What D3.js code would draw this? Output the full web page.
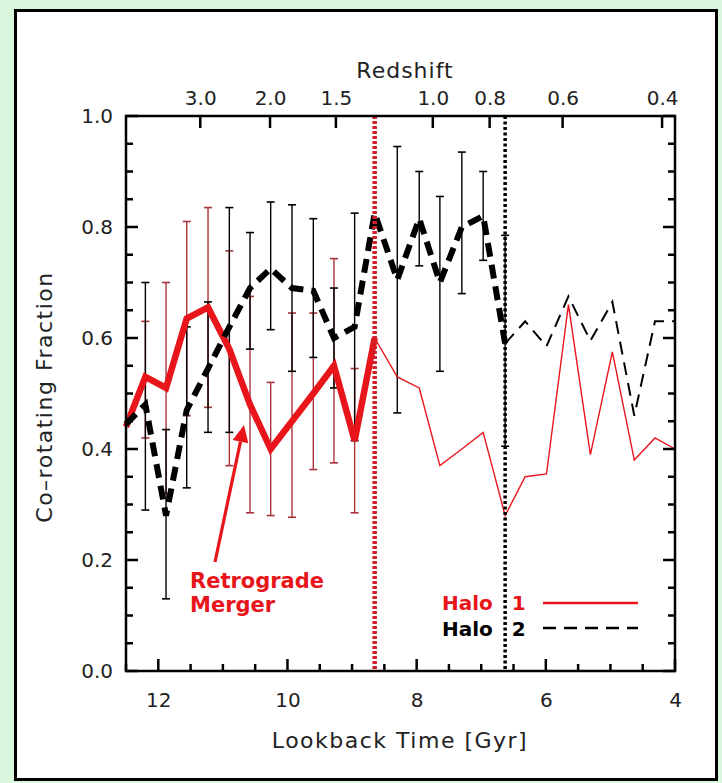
<!DOCTYPE html>
<html>
<head>
<meta charset="utf-8">
<script src="https://cdn.jsdelivr.net/npm/d3@7"></script>
<style>
  body { margin: 0; background: #d8f7dc; }
  svg { display: block; }
  text { font-family: "DejaVu Sans", sans-serif; }
</style>
</head>
<body>
<div id="graph"></div>
<script>
// lookback time of each bin [Gyr]
const times = [12.5, 12.2, 11.88, 11.56, 11.23, 10.9, 10.58, 10.26, 9.93, 9.6, 9.28, 8.96, 8.65,
  8.3, 7.96, 7.64, 7.3, 6.97, 6.63, 6.32, 5.99, 5.65, 5.31, 4.97, 4.63, 4.31, 4.0];
// co-rotating fraction
const halo1 = [0.44, 0.53, 0.51, 0.635, 0.655, 0.58, 0.48, 0.40, 0.45, 0.50, 0.55, 0.415, 0.60,
  0.53, 0.51, 0.37, 0.40, 0.43, 0.28, 0.35, 0.355, 0.66, 0.39, 0.575, 0.38, 0.42, 0.40];
const halo2 = [0.445, 0.48, 0.28, 0.47, 0.545, 0.62, 0.69, 0.725, 0.69, 0.685, 0.60, 0.62, 0.825,
  0.705, 0.815, 0.70, 0.80, 0.82, 0.59, 0.63, 0.585, 0.675, 0.595, 0.665, 0.46, 0.63, 0.63];
// error bar ranges (null = none)
const halo1Lo = [null, 0.42, 0.32, 0.46, 0.475, 0.37, 0.285, 0.28, 0.277, 0.363, 0.375, 0.285];
const halo1Hi = [null, 0.63, 0.70, 0.81, 0.835, 0.757, 0.675, 0.52, 0.645, 0.645, 0.743, 0.545];
const halo2Lo = [null, 0.29, 0.13, 0.33, 0.43, 0.43, 0.58, 0.615, 0.54, 0.565, 0.51, 0.415, null,
  0.465, 0.73, 0.54, 0.68, 0.74, 0.405];
const halo2Hi = [null, 0.70, 0.435, 0.62, 0.665, 0.835, 0.79, 0.845, 0.84, 0.815, 0.69, 0.825, null,
  0.945, 0.90, 0.855, 0.935, 0.90, 0.785];
// where each halo switches from thick to thin line (merger times)
const merger1 = 8.65;
const merger2 = 6.63;
// redshift axis
const zLabels = ["3.0", "2.0", "1.5", "1.0", "0.8", "0.6", "0.4"];
const zTimes = [11.35, 10.27, 9.25, 7.75, 6.87, 5.74, 4.2];
const xTicks = [12, 10, 8, 6, 4];
const yTicks = [0, 0.2, 0.4, 0.6, 0.8, 1.0];

const W = 722, H = 783;
const padL = 126, padR = 675, padT = 116, padB = 671;
const red = "#e8151b";

const svg = d3.select("#graph").append("svg")
  .attr("width", W)
  .attr("height", H);

// panel
svg.append("rect")
  .attr("x", 15.5).attr("y", 10.5)
  .attr("width", 701).attr("height", 769)
  .attr("fill", "#fff")
  .attr("stroke", "#000")
  .attr("stroke-width", 3);

const x = d3.scaleLinear().domain([12.5, 4]).range([padL, padR]);
const y = d3.scaleLinear().domain([0, 1]).range([padB, padT]);

//error bars
function errBars(lo, hi, color, w) {
  const g = svg.append("g");
  lo.forEach((l, i) => {
    if (l == null) return;
    const cx = x(times[i]);
    g.append("line")
      .attr("x1", cx).attr("x2", cx)
      .attr("y1", y(l)).attr("y2", y(hi[i]))
      .attr("stroke", color).attr("stroke-width", w);
    [l, hi[i]].forEach(v => {
      g.append("line")
        .attr("x1", cx - 4).attr("x2", cx + 4)
        .attr("y1", y(v)).attr("y2", y(v))
        .attr("stroke", color).attr("stroke-width", 1.6);
    });
  });
}
errBars(halo1Lo, halo1Hi, "#a8343a", 1.4);
errBars(halo2Lo, halo2Hi, "#000", 1.4);

//lines
const pts = arr => times.map((t, i) => [t, arr[i]]);
const line = d3.line().x(d => x(d[0])).y(d => y(d[1]));

const h1 = pts(halo1), h2 = pts(halo2);
svg.append("path").datum(h1.filter(d => d[0] <= merger1))
  .attr("d", line).attr("fill", "none")
  .attr("stroke", red).attr("stroke-width", 1.4);
svg.append("path").datum(h2.filter(d => d[0] <= merger2))
  .attr("d", line).attr("fill", "none")
  .attr("stroke", "#000").attr("stroke-width", 2)
  .attr("stroke-dasharray", "13,8");
svg.append("path").datum(h1.filter(d => d[0] >= merger1))
  .attr("d", line).attr("fill", "none")
  .attr("stroke", red).attr("stroke-width", 6.5)
  .attr("stroke-linejoin", "miter");
svg.append("path").datum(h2.filter(d => d[0] >= merger2))
  .attr("d", line).attr("fill", "none")
  .attr("stroke", "#000").attr("stroke-width", 6)
  .attr("stroke-dasharray", "14,8");

//merger markers
svg.append("line")
  .attr("x1", x(merger1)).attr("x2", x(merger1))
  .attr("y1", padT).attr("y2", padB)
  .attr("stroke", "#d0202a").attr("stroke-width", 4.5)
  .attr("stroke-dasharray", "3,2");
svg.append("line")
  .attr("x1", x(merger2)).attr("x2", x(merger2))
  .attr("y1", padT).attr("y2", padB)
  .attr("stroke", "#000").attr("stroke-width", 3.5)
  .attr("stroke-dasharray", "3,2.5");

//tick labels from d3 axes (tick marks drawn below)
function styleAxis(g) {
  g.select(".domain").remove();
  g.selectAll(".tick line").remove();
  g.selectAll("text").attr("font-size", 20).attr("fill", "#222")
    .attr("font-family", "DejaVu Sans, sans-serif");
}
svg.append("g").attr("transform", `translate(0,${padB})`)
  .call(d3.axisBottom(x).tickValues(xTicks).tickFormat(d3.format("d"))
    .tickSize(0).tickPadding(22))
  .call(styleAxis);
svg.append("g").attr("transform", `translate(0,${padT})`)
  .call(d3.axisTop(x).tickValues(zTimes).tickFormat((d, i) => zLabels[i])
    .tickSize(0).tickPadding(11))
  .call(styleAxis);
svg.append("g").attr("transform", `translate(${padL},0)`)
  .call(d3.axisLeft(y).tickValues(yTicks).tickFormat(d3.format(".1f"))
    .tickSize(0).tickPadding(13))
  .call(styleAxis);

//inward tick marks
const minorX = d3.range(4, 12.51, 0.5).filter(v => v % 2 !== 0);
const minorY = d3.range(0, 1.001, 0.05).filter(v => Math.abs(v * 5 - Math.round(v * 5)) > 1e-6);
const ticks = svg.append("g").attr("stroke", "#000").attr("stroke-width", 2.5);
const xMarks = xTicks.map(v => [v, 12]).concat(minorX.map(v => [v, 7]));
ticks.append("g").selectAll("line").data(xMarks).join("line")
  .attr("x1", d => x(d[0])).attr("x2", d => x(d[0]))
  .attr("y1", padB).attr("y2", d => padB - d[1]);
ticks.append("g").selectAll("line").data(zTimes).join("line")
  .attr("x1", d => x(d)).attr("x2", d => x(d))
  .attr("y1", padT).attr("y2", padT + 12);
const yMarks = yTicks.map(v => [v, 12]).concat(minorY.map(v => [v, 7]));
[[padL, 1], [padR, -1]].forEach(([ax, dir]) => {
  ticks.append("g").selectAll("line").data(yMarks).join("line")
    .attr("x1", ax).attr("x2", d => ax + dir * d[1])
    .attr("y1", d => y(d[0])).attr("y2", d => y(d[0]));
});

svg.append("rect")
  .attr("x", padL).attr("y", padT)
  .attr("width", padR - padL).attr("height", padB - padT)
  .attr("fill", "none").attr("stroke", "#000").attr("stroke-width", 2.5);

//titles
svg.append("text").text("Redshift")
  .attr("x", 405).attr("y", 78)
  .attr("text-anchor", "middle").attr("font-size", 22).attr("letter-spacing", 1)
  .attr("fill", "#222");
svg.append("text").text("Lookback Time [Gyr]")
  .attr("x", 400).attr("y", 748)
  .attr("text-anchor", "middle").attr("font-size", 22).attr("letter-spacing", 1.5)
  .attr("fill", "#222");
svg.append("text").text("Co\u2013rotating Fraction")
  .attr("transform", "translate(52,397) rotate(-90)")
  .attr("text-anchor", "middle").attr("font-size", 22).attr("letter-spacing", 1.5)
  .attr("fill", "#222");

//annotation arrow
const ax0 = 215, ay0 = 562, ax1 = 244, ay1 = 425;
const ang = Math.atan2(ay1 - ay0, ax1 - ax0);
const hl = 17, hw = 8;
const bx = ax1 - hl * Math.cos(ang), by = ay1 - hl * Math.sin(ang);
svg.append("line")
  .attr("x1", ax0).attr("y1", ay0)
  .attr("x2", bx).attr("y2", by)
  .attr("stroke", red).attr("stroke-width", 3.2);
svg.append("path")
  .attr("d", d3.line()([
    [ax1, ay1],
    [bx + hw * Math.sin(ang), by - hw * Math.cos(ang)],
    [bx - hw * Math.sin(ang), by + hw * Math.cos(ang)]
  ]) + "Z")
  .attr("fill", red);
svg.append("text").text("Retrograde")
  .attr("x", 190).attr("y", 588)
  .attr("font-size", 21).attr("font-weight", "bold").attr("fill", red);
svg.append("text").text("Merger")
  .attr("x", 190).attr("y", 612)
  .attr("font-size", 21).attr("font-weight", "bold").attr("fill", red);

//legend
const legend = svg.append("g");
legend.append("text").text("Halo 1")
  .attr("x", 442).attr("y", 610).attr("word-spacing", 12)
  .attr("font-size", 20).attr("font-weight", "bold").attr("fill", red);
legend.append("line")
  .attr("x1", 543).attr("x2", 638).attr("y1", 603).attr("y2", 603)
  .attr("stroke", red).attr("stroke-width", 2.5);
legend.append("text").text("Halo 2")
  .attr("x", 442).attr("y", 636).attr("word-spacing", 12)
  .attr("font-size", 20).attr("font-weight", "bold").attr("fill", "#000");
legend.append("line")
  .attr("x1", 543).attr("x2", 638).attr("y1", 628).attr("y2", 628)
  .attr("stroke", "#000").attr("stroke-width", 2.5)
  .attr("stroke-dasharray", "13,8");
</script>
</body>
</html>
